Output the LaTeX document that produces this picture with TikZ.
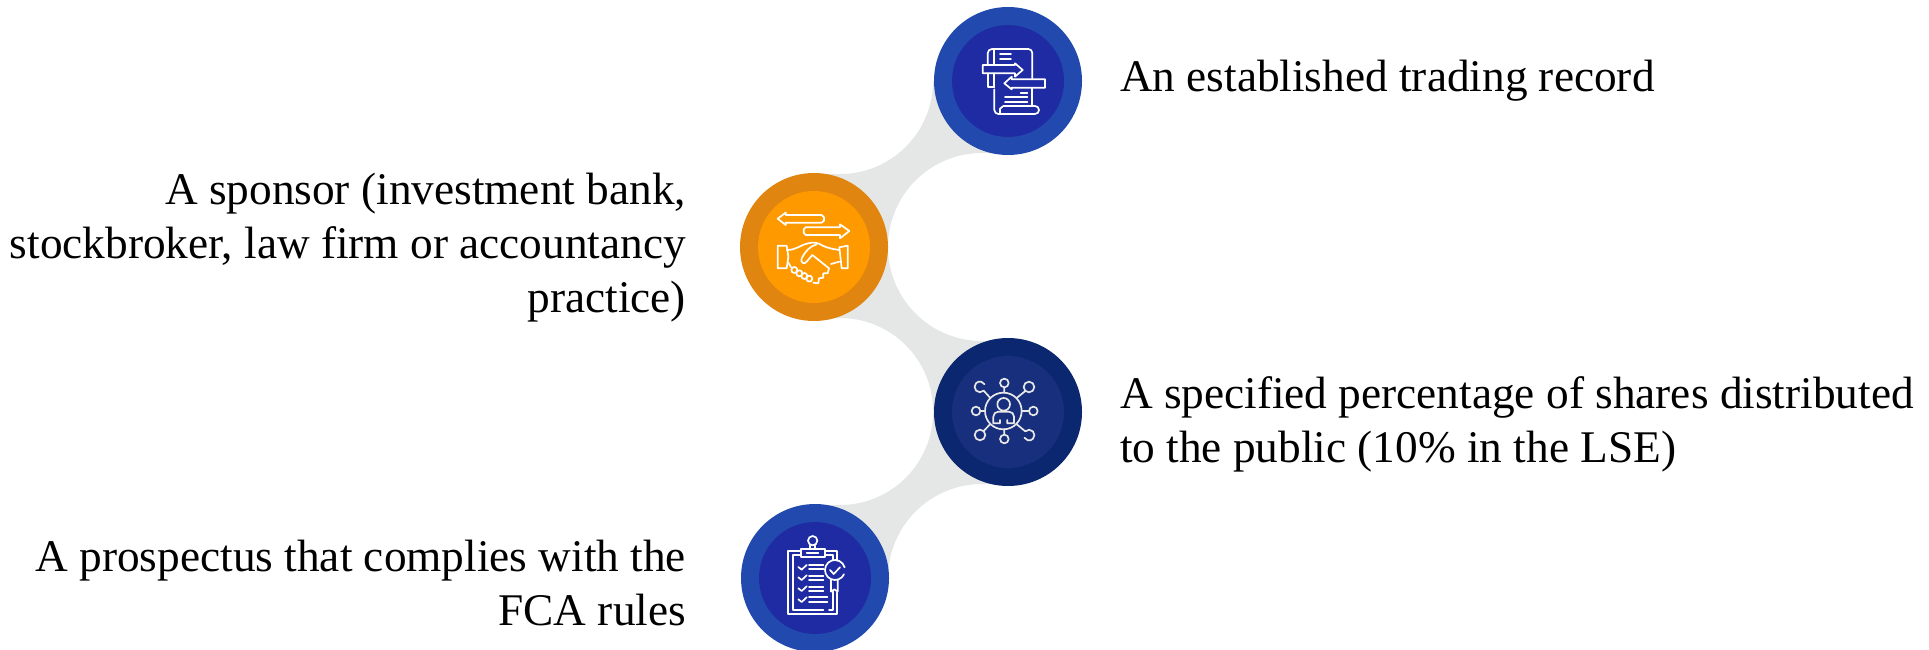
\documentclass[tikz,border=0pt]{standalone}
\usepackage{fontspec}
\setmainfont{Liberation Serif}
\definecolor{linkgray}{HTML}{E5E7E6}
\definecolor{blueout}{HTML}{2249AD}
\definecolor{bluein}{HTML}{1F2BA3}
\definecolor{orangeout}{HTML}{E08610}
\definecolor{orangein}{HTML}{FF9900}
\definecolor{navyout}{HTML}{0B276F}
\definecolor{navyin}{HTML}{182F7D}
\definecolor{icongray}{HTML}{E8E8E8}
\tikzset{
  ring/.style={circle,minimum size=148pt,inner sep=0pt,outer sep=0pt},
  core/.style={circle,minimum size=112pt,inner sep=0pt,outer sep=0pt},
  label/.style={font=\fontsize{45.3}{54}\selectfont,inner sep=0pt,outer sep=0pt},
  iconpen/.style={x=0.3333pt,y=-0.3333pt,line width=1.7pt,line join=round,line cap=round},
}
\begin{document}
\begin{tikzpicture}[x=1pt,y=-1pt]
\useasboundingbox (0,0) rectangle (1929,650);
% links
\fill[linkgray] (1008,81) -- (933,81) arc[start angle=0,end angle=90,radius=93] -- (814,174) -- (814,247) -- (888,247) arc[start angle=180,end angle=270,radius=94] -- (1008,153) -- cycle;
\fill[linkgray] (814,247) -- (814,318) -- (840,318) arc[start angle=270,end angle=360,radius=93] -- (1008,411) -- (1008,341) -- (982,341) arc[start angle=90,end angle=180,radius=94] -- cycle;
\fill[linkgray] (1008,412) -- (933,412) arc[start angle=0,end angle=90,radius=93] -- (815,505) -- (815,578) -- (888,578) arc[start angle=180,end angle=270,radius=94] -- (1008,484) -- cycle;
% circles
\node[ring,fill=blueout] (r1) at (1008,81) {};
\node[core,fill=bluein] (c1) at (r1) {};
\node[ring,fill=orangeout] (r2) at (814,247) {};
\node[core,fill=orangein] (c2) at (r2) {};
\node[ring,fill=navyout] (r3) at (1008,412) {};
\node[core,fill=navyin] (c3) at (r3) {};
\node[ring,fill=blueout] (r4) at (815,578) {};
\node[core,fill=bluein] (c4) at (r4) {};
% icon 1
\begin{scope}[shift={(950,20)},iconpen,draw=white]
\draw (113,135) -- (113,100) arc[start angle=180,end angle=270,radius=13] -- (235,87) arc[start angle=270,end angle=360,radius=12] -- (247,175);
\draw (247,205) -- (247,258);
\draw (113,160) -- (113,200) -- (133,200);
\draw (133,87) -- (133,135);
\draw (133,160) -- (133,200);
\draw (133,208) -- (133,270) arc[start angle=180,end angle=90,radius=12] -- (255,282) arc[start angle=90,end angle=-90,radius=12] -- (160,258) -- (150,266) -- (150,282);
\draw (98,135) -- (195,135) -- (195,130) -- (218,150) -- (195,170) -- (195,160) -- (98,160) -- cycle;
\draw (285,178) -- (185,178) -- (185,170) -- (163,190) -- (185,208) -- (185,203) -- (285,203) -- cycle;
\draw (150,103) -- (183,103) (150,118) -- (183,118);
\draw (212,218) -- (232,218) (165,232) -- (232,232) (165,245) -- (232,245);
\end{scope}
% icon 2
\begin{scope}[shift={(755,190)},iconpen,draw=white]
\draw (68,86) -- (92,68) -- (92,75) -- (200,75) -- (207,82) -- (207,92) -- (200,98) -- (92,98) -- (92,105) -- cycle;
\draw (152,112) -- (255,112) -- (255,103) -- (283,123) -- (255,145) -- (255,135) -- (152,135) -- (146,128) -- (146,118) -- cycle;
\draw (68,167) -- (95,167) -- (100,200) -- (95,235) -- (68,235) -- cycle;
\draw (253,172) -- (278,167) -- (278,235) -- (260,235) -- cycle;
\draw (96,180) .. controls (125,180) and (135,165) .. (160,160) .. controls (175,155) and (190,158) .. (205,168) .. controls (220,175) and (240,178) .. (253,180);
\draw (185,163) .. controls (165,168) and (150,185) .. (140,205) .. controls (135,218) and (148,225) .. (155,215) -- (172,195) -- (222,235);
\draw (222,235) -- (218,250) -- (205,250) -- (205,263) -- (192,265) -- (190,280) -- (175,278);
\draw (253,215) -- (228,222);
\draw (100,218) -- (108,232);
\foreach \p/\q in {118/240,133/250,148/258,163/266} \draw (\p,\q) circle[radius=9];
\end{scope}
% icon 3
\begin{scope}[shift={(950,355)},iconpen,draw=icongray]
\draw (160,168) circle[radius=55];
\draw (161,148) circle[radius=19];
\draw (150,195) -- (150,205) -- (130,205) -- (130,185) arc[start angle=180,end angle=270,radius=15] -- (177,170) arc[start angle=270,end angle=360,radius=15] -- (192,205) -- (172,205) -- (172,195);
\draw (163,84) circle[radius=13] (163,97) -- (163,113);
\draw (163,252) circle[radius=13] (163,239) -- (163,223);
\draw (78,168) circle[radius=13] (91,168) -- (105,168);
\draw (250,168) circle[radius=13] (237,168) -- (215,168);
\draw (237,96) circle[radius=16] (226,108) -- (200,129);
\draw (90,240) circle[radius=16] (101,228) -- (121,207);
\draw (101,107) arc[start angle=45,end angle=330,radius=16];
\draw (101,107) -- (121,129);
\draw (226,229) arc[start angle=225,end angle=510,radius=16];
\draw (226,229) -- (199,207);
\end{scope}
% icon 4
\begin{scope}[shift={(755,520)},iconpen,draw=white]
\draw (138,92) -- (100,92) -- (100,283) -- (247,283) -- (247,218);
\draw (210,92) -- (247,92) -- (247,122);
\draw (138,105) -- (113,105) -- (113,270) -- (205,270);
\draw (222,270) -- (235,270) -- (235,215);
\draw (210,105) -- (235,105) -- (235,120);
\draw (138,88) rectangle (210,110);
\draw (155,98) -- (190,98);
\draw (173,62) circle[radius=14];
\draw (165,77) -- (165,88) (180,77) -- (180,88);
\foreach \y in {141,172,205,238} \draw (130,\y) -- (140,\y+8) -- (155,\y-6);
\foreach \y in {135,148,168,180,200,212} \draw (162,\y) -- (205,\y);
\draw (162,232) -- (217,232) (162,245) -- (217,245);
\draw (240,150) ++(25:30) arc[start angle=25,end angle=345,radius=30];
\draw (225,150) -- (236,162) -- (255,142);
\draw (228,180) -- (228,215) -- (238,208) -- (248,215) -- (248,180);
\end{scope}
% labels
\node[label,anchor=base west,align=left] (t1) at (1120,92) {An established trading record};
\node[label,anchor=east,align=right] (t2) at (686,248) {A sponsor (investment bank,\\stockbroker, law firm or accountancy\\practice)};
\node[label,anchor=west,align=left] (t3) at (1120,424) {A specified percentage of shares distributed\\to the public (10\% in the LSE)};
\node[label,anchor=east,align=right] (t4) at (686,583) {A prospectus that complies with the\\FCA rules};
\end{tikzpicture}
\end{document}
